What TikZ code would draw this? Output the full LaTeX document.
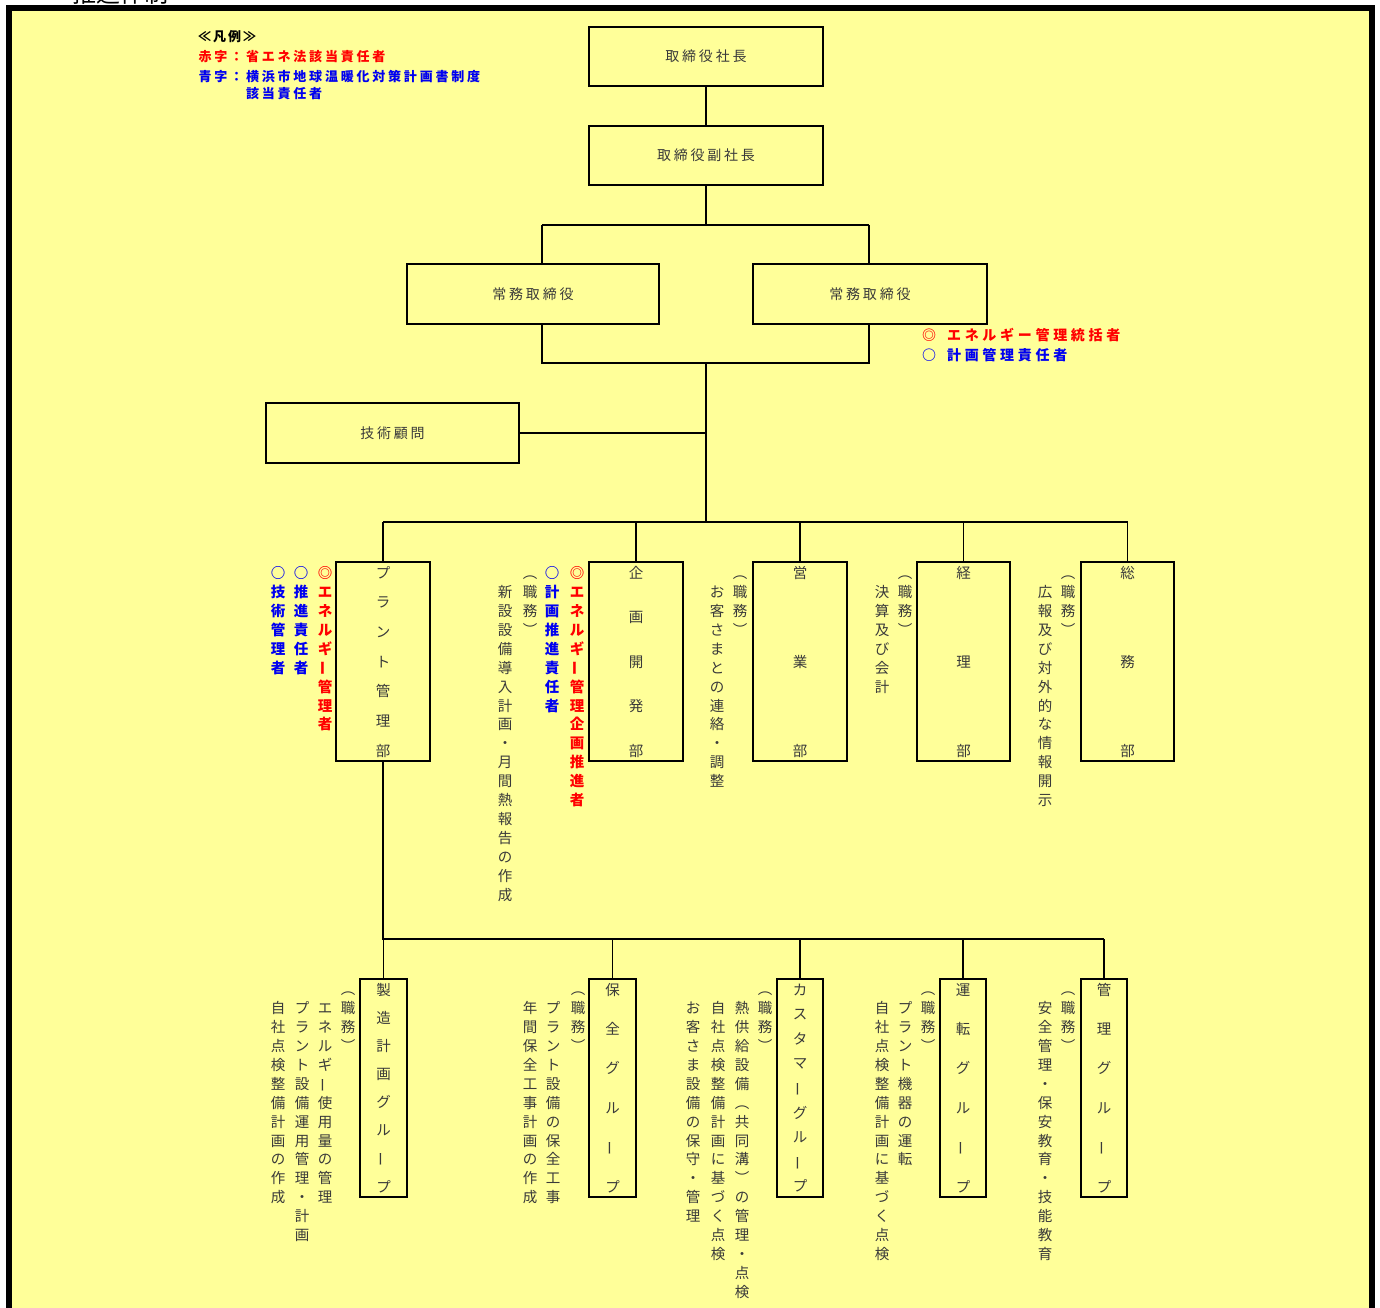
\documentclass[tikz,border=0pt]{standalone}
\usepackage{fontspec}
\setmainfont{Noto Sans CJK JP}
\definecolor{bg}{HTML}{FFFF99}
\definecolor{txt}{HTML}{3A3A3A}
\definecolor{rd}{HTML}{FF0000}
\definecolor{bl}{HTML}{0000F0}
\newdimen\vpitch
\newdimen\hpitch
\def\VL{\rotatebox[origin=c]{90}{ー}}
\def\jstrut{\rule[-0.12em]{0pt}{1em}}
\def\vstloop#1{\ifx#1\relax\else\vbox to\vpitch{\vss\hbox to 1em{\hss\jstrut#1\hss}\vss}\expandafter\vstloop\fi}
\newcommand\vst[2]{\vbox{\offinterlineskip\vpitch=#1\relax\vstloop#2\relax}}
\def\hsploop#1{\ifx#1\relax\else\hbox to\hpitch{\hss#1\hss}\expandafter\hsploop\fi}
\newcommand\hsp[2]{\hbox{\hpitch=#1\relax\hsploop#2\relax}}
\tikzset{
  box/.style={draw=black, line width=1.6pt, fill=bg, inner sep=0pt, text=txt,
    font=\fontsize{14}{15}\selectfont},
  conn/.style={draw=black, line width=1.6pt},
  vtext/.style={inner sep=0pt, anchor=north, text=txt, font=\fontsize{14.5}{15}\selectfont},
  vred/.style={vtext, text=rd, font=\fontsize{14.5}{15}\selectfont\bfseries},
  vblue/.style={vtext, text=bl, font=\fontsize{14.5}{15}\selectfont\bfseries},
  boxtxt/.style={inner sep=0pt, anchor=center, text=txt, font=\fontsize{14.5}{15}\selectfont},
  legend/.style={inner sep=0pt, anchor=west, font=\fontsize{13}{14}\selectfont\bfseries},
}
\begin{document}
\begin{tikzpicture}[x=1pt, y=-1pt]
\useasboundingbox (0,0) rectangle (1380,1307);
\fill[white] (0,0) rectangle (1380,1307);
\node[anchor=south, inner sep=0pt, text=black, font=\fontsize{24}{24}\selectfont] (title) at (120,5) {推進体制};
\fill[black] (6,5) rectangle (1375,1320);
\fill[bg] (12,11) rectangle (1369,1320);

% legend
\node[legend, text=black] (lg0) at (197,37) {\hsp{15pt}{≪凡例≫}};
\node[legend, text=rd] (lg1) at (197,57) {\hsp{15.8pt}{赤字：省エネ法該当責任者}};
\node[legend, text=bl] (lg2) at (197,77) {\hsp{15.8pt}{青字：横浜市地球温暖化対策計画書制度}};
\node[legend, text=bl] (lg3) at (244.4,94) {\hsp{15.8pt}{該当責任者}};

% top boxes
\node[box, minimum width=234pt, minimum height=59pt] (pres) at (706,56.5) {\hsp{16.8pt}{取締役社長}};
\node[box, minimum width=234pt, minimum height=59pt] (vp) at (706,155.5) {\hsp{16.8pt}{取締役副社長}};
\node[box, minimum width=252pt, minimum height=60pt] (md1) at (533,294) {\hsp{16.8pt}{常務取締役}};
\node[box, minimum width=234pt, minimum height=60pt] (md2) at (870,294) {\hsp{16.8pt}{常務取締役}};
\node[box, minimum width=253pt, minimum height=60pt] (adv) at (392.5,433) {\hsp{16.8pt}{技術顧問}};

\node[legend, text=rd, font=\fontsize{14}{15}\selectfont\bfseries] (an1) at (921,335) {\hsp{16pt}{◎}\hskip 8pt\hsp{17.7pt}{エネルギー管理統括者}};
\node[legend, text=bl, font=\fontsize{14}{15}\selectfont\bfseries] (an2) at (921,355) {\hsp{16pt}{○}\hskip 8pt\hsp{17.7pt}{計画管理責任者}};

% junction coordinates
\coordinate (j1) at (706,225);
\coordinate (b1l) at (542,225);
\coordinate (b1r) at (869,225);
\coordinate (b2l) at (542,363);
\coordinate (b2r) at (869,363);
\coordinate (j2) at (706,363);
\coordinate (j3) at (706,433);
\coordinate (j4) at (706,522);
\coordinate (bus1l) at (383,522);
\coordinate (bus1r) at (1127.5,522);
\coordinate (j5) at (383,939);
\coordinate (bus2r) at (1104,939);

\draw[conn] (pres) -- (vp);
\draw[conn] (vp) -- (j1);
\draw[conn] (b1l) -- (b1r);
\draw[conn] (b1l) -- (b1l |- md1.north);
\draw[conn] (b1r) -- (b1r |- md2.north);
\draw[conn] (b2l |- md1.south) -- (b2l) -- (b2r) -- (b2r |- md2.south);
\draw[conn] (j2) -- (j4);
\draw[conn] (adv.east |- j3) -- (j3);
\draw[conn] (bus1l) -- (bus1r);

% departments
\node[box, minimum width=94pt, minimum height=199pt] (plant) at (383,661.5) {};
\node[box, minimum width=94pt, minimum height=199pt] (plan) at (636,661.5) {};
\node[box, minimum width=94pt, minimum height=199pt] (sales) at (800,661.5) {};
\node[box, minimum width=93pt, minimum height=199pt] (acct) at (963.5,661.5) {};
\node[box, minimum width=93pt, minimum height=199pt] (ga) at (1127.5,661.5) {};
\foreach \n in {plant,plan,sales,acct,ga}{
  \draw[conn] (\n.north |- bus1l) -- (\n.north);
}
\node[boxtxt] (plantT) at (plant.center) {\vst{29.67pt}{プラント管理部}};
\node[boxtxt] (planT) at (plan.center) {\vst{44.5pt}{企画開発部}};
\node[boxtxt] (salesT) at (sales.center) {\vst{89pt}{営業部}};
\node[boxtxt] (acctT) at (acct.center) {\vst{89pt}{経理部}};
\node[boxtxt] (gaT) at (ga.center) {\vst{89pt}{総務部}};

% dept side texts
\node[vblue] (p1) at (278,563.55) {\vst{18.9pt}{○技術管理者}};
\node[vblue] (p2) at (301,563.55) {\vst{18.9pt}{○推進責任者}};
\node[vred] (p3) at (325,563.55) {\vst{18.9pt}{◎エネルギ\VL 管理者}};
\node[vtext] (q1) at (505,582.45) {\vst{18.9pt}{新設設備導入計画・月間熱報告の作成}};
\node[vtext] (q2) at (530,563.55) {\vst{18.9pt}{︵職務︶}};
\node[vblue] (q3) at (552,563.55) {\vst{18.9pt}{○計画推進責任者}};
\node[vred] (q4) at (577,563.55) {\vst{18.9pt}{◎エネルギ\VL 管理企画推進者}};
\node[vtext] (s1) at (717,582.45) {\vst{18.9pt}{お客さまとの連絡・調整}};
\node[vtext] (s2) at (740,563.55) {\vst{18.9pt}{︵職務︶}};
\node[vtext] (a1) at (882,582.45) {\vst{18.9pt}{決算及び会計}};
\node[vtext] (a2) at (905,563.55) {\vst{18.9pt}{︵職務︶}};
\node[vtext] (g1) at (1045,582.45) {\vst{18.9pt}{広報及び対外的な情報開示}};
\node[vtext] (g2) at (1068,563.55) {\vst{18.9pt}{︵職務︶}};

% groups
\draw[conn] (plant.south) -- (j5) -- (bus2r);
\node[box, minimum width=47pt, minimum height=218pt] (mfg) at (383.5,1088) {};
\node[box, minimum width=47pt, minimum height=218pt] (mnt) at (612.5,1088) {};
\node[box, minimum width=46pt, minimum height=218pt] (cus) at (800,1088) {};
\node[box, minimum width=46pt, minimum height=218pt] (ops) at (963,1088) {};
\node[box, minimum width=46pt, minimum height=218pt] (mgt) at (1104,1088) {};
\foreach \n in {mfg,mnt,cus,ops,mgt}{
  \draw[conn] (\n.north |- j5) -- (\n.north);
}
\node[boxtxt] (mfgT) at (mfg.center) {\vst{28.14pt}{製造計画グル\VL プ}};
\node[boxtxt] (mntT) at (mnt.center) {\vst{39.4pt}{保全グル\VL プ}};
\node[boxtxt] (cusT) at (cus.center) {\vst{24.6pt}{カスタマ\VL グル\VL プ}};
\node[boxtxt] (opsT) at (ops.center) {\vst{39.4pt}{運転グル\VL プ}};
\node[boxtxt] (mgtT) at (mgt.center) {\vst{39.4pt}{管理グル\VL プ}};

% group side texts
\node[vtext] (m1) at (278,998.55) {\vst{18.9pt}{自社点検整備計画の作成}};
\node[vtext] (m2) at (302,998.55) {\vst{18.9pt}{プラント設備運用管理・計画}};
\node[vtext] (m3) at (325,998.55) {\vst{18.9pt}{エネルギ\VL 使用量の管理}};
\node[vtext] (m4) at (348,979.65) {\vst{18.9pt}{︵職務︶}};
\node[vtext] (n1) at (530,998.55) {\vst{18.9pt}{年間保全工事計画の作成}};
\node[vtext] (n2) at (553,998.55) {\vst{18.9pt}{プラント設備の保全工事}};
\node[vtext] (n3) at (578,979.65) {\vst{18.9pt}{︵職務︶}};
\node[vtext] (c1) at (693,998.55) {\vst{18.9pt}{お客さま設備の保守・管理}};
\node[vtext] (c2) at (718,998.55) {\vst{18.9pt}{自社点検整備計画に基づく点検}};
\node[vtext] (c3) at (742,998.55) {\vst{18.9pt}{熱供給設備︵共同溝︶の管理・点検}};
\node[vtext] (c4) at (765,979.65) {\vst{18.9pt}{︵職務︶}};
\node[vtext] (o1) at (882,998.55) {\vst{18.9pt}{自社点検整備計画に基づく点検}};
\node[vtext] (o2) at (905,998.55) {\vst{18.9pt}{プラント機器の運転}};
\node[vtext] (o3) at (928,979.65) {\vst{18.9pt}{︵職務︶}};
\node[vtext] (k1) at (1045,998.55) {\vst{18.9pt}{安全管理・保安教育・技能教育}};
\node[vtext] (k2) at (1068,979.65) {\vst{18.9pt}{︵職務︶}};
\end{tikzpicture}
\end{document}
